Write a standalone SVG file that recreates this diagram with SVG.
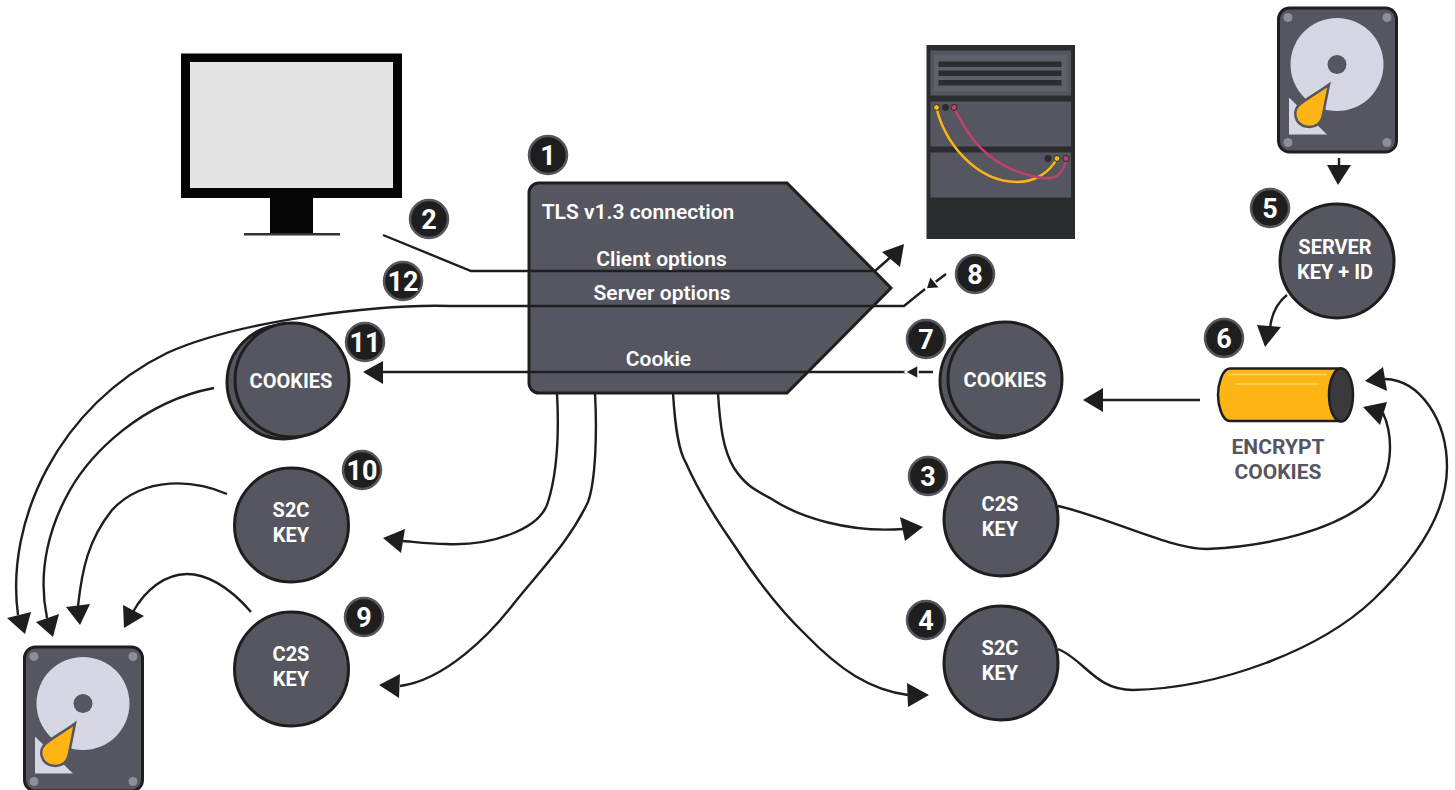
<svg xmlns="http://www.w3.org/2000/svg" width="1455" height="790" viewBox="0 0 1455 790">
<defs>
<style>
text{font-family:Roboto,"Liberation Sans",sans-serif;font-weight:700;text-anchor:middle}
.c{fill:#55565f;stroke:#1f1e1e;stroke-width:3}
.t{fill:#fff;font-size:20px}
.n{fill:#fff;font-size:27px}
.b{fill:#1f1e1e;stroke:#55565f;stroke-width:2.5}
.l{fill:none;stroke:#1f1e1e;stroke-width:2.4}
.h{fill:#1f1e1e;stroke:none}
.g{fill:#1f1e1e;stroke:#fff;stroke-width:1.5}
.m{font-size:21px;fill:#fff;font-weight:600}
.p{fill:#55565f;stroke:#2b2c30;stroke-width:1}
.e{fill:#55565f;font-size:21px}
</style>
<g id="hdd">
<rect x="1.5" y="1.5" width="118" height="144" rx="11" fill="#55565f" stroke="#1f1e1e" stroke-width="3"/>
<circle cx="11" cy="11" r="4.5" fill="#8d8e97"/><circle cx="110" cy="11" r="4.5" fill="#8d8e97"/><circle cx="11" cy="136" r="4.5" fill="#8d8e97"/><circle cx="110" cy="136" r="4.5" fill="#8d8e97"/>
<circle cx="60" cy="58" r="46.5" fill="#d6d6e4"/><circle cx="60" cy="58" r="9.5" fill="#55565f"/>
<path d="M12 91V128H50Z" fill="#d6d6e4"/>
<path d="M52 78C44 84 30 92 24 97C14 104 18 118 29 120C39 122 45 116 46 108C48 98 50 88 52 78Z" fill="#fdb515" stroke="#55565f" stroke-width="2.5"/>
</g>
</defs>
<g id="connectors">
<path class="l" d="M383 235L471 271H875L893 255"/><path class="h" d="M904 244L900 267L882 252Z"/>
<path class="l" d="M946 274L934 283"/><path class="g" d="M926 289L930 276L940 288Z"/>
<path class="l" d="M925 289L904 306H450C380 304 240 320 167 353C60 405 5 520 18 615"/><path class="h" d="M25 634L7 618L31 612Z"/>
<path class="l" d="M214 388C140 402 90 455 70 490C50 525 37 570 47 618"/><path class="h" d="M53 637L36 622L59 614Z"/>
<path class="l" d="M227 494C195 480 145 475 112 510C88 540 82 570 78 606"/><path class="h" d="M80 625L66 607L90 604Z"/>
<path class="l" d="M251 612C228 585 205 574 187 574C165 574 145 590 133 612"/><path class="h" d="M124 628L123 605L144 616Z"/>
<path class="l" d="M933 372H375"/><path class="h" d="M363 372L383 361V384Z"/><path class="g" d="M905 372L918 365V379Z"/>
<path class="l" d="M557 393C559 430 558 470 548 502C540 530 490 546 446 544C430 544 415 542 403 541"/><path class="h" d="M383 538L405 529L401 553Z"/>
<path class="l" d="M595 393C597 430 596 480 588 502C570 540 545 565 515 602C490 635 445 680 400 686"/><path class="h" d="M379 685L400 674L399 698Z"/>
<path class="l" d="M673 393C675 425 678 450 686 463C700 495 720 525 734 545C760 585 785 615 806 635C840 670 870 690 908 695"/><path class="h" d="M929 695L907 683L908 707Z"/>
<path class="l" d="M718 393C720 425 723 450 734 468C745 485 755 490 770 498C800 518 850 533 903 529"/><path class="h" d="M923 527L900 517L905 541Z"/>
<path class="l" d="M1058 506C1110 518 1170 549 1207 549C1270 546 1335 530 1370 500C1395 475 1393 435 1383 413"/><path class="h" d="M1363 407L1387 402L1380 425Z"/>
<path class="l" d="M1058 649C1085 660 1095 690 1133 690C1220 688 1320 650 1373 600C1420 555 1447 510 1447 467C1447 420 1420 380 1385 379"/><path class="h" d="M1365 381L1383 367L1387 391Z"/>
<path class="l" d="M1339 158V170"/><path class="h" d="M1338 185L1327 165H1351Z"/>
<path class="l" d="M1287 295C1278 302 1272 312 1270 328"/><path class="h" d="M1265 347L1257 325L1281 327Z"/>
<path class="l" d="M1200 400H1100"/><path class="h" d="M1083 400L1103 388V412Z"/>
</g>
<g id="monitor">
<rect x="181" y="53.5" width="221" height="144.500" fill="#050505"/>
<rect x="190" y="62" width="203" height="126" fill="#e5e5e5"/>
<rect x="270" y="198" width="43" height="35" fill="#050505"/>
<rect x="244" y="233" width="96" height="2.500" fill="#333"/>
</g>
<g id="server">
<rect x="926.500" y="45" width="148.500" height="194" fill="#2b2c30"/>
<rect class="p" x="930" y="50" width="141.500" height="46"/>
<rect x="934" y="55" width="133" height="36" fill="#5f606a"/>
<rect x="938.500" y="61.500" width="123" height="5.500" fill="#2b2c30"/><rect x="938.500" y="70.500" width="123" height="5.500" fill="#2b2c30"/><rect x="938.500" y="80" width="123" height="5.500" fill="#2b2c30"/>
<rect class="p" x="930" y="101" width="141.500" height="46"/>
<rect class="p" x="930" y="152" width="141.500" height="46"/>
<circle cx="945.500" cy="107.500" r="3.500" fill="#2b2c30"/><circle cx="1048" cy="158.500" r="3.500" fill="#2b2c30"/>
<path d="M936.500 107.500C943 140 975 182 1017 182C1035 182 1050 172 1057 158.500" fill="none" stroke="#fdb515" stroke-width="2.500"/>
<path d="M954 107.500C965 130 985 170 1043 178C1058 180 1065 170 1066 158.500" fill="none" stroke="#c2416b" stroke-width="2.500"/>
<circle cx="936.500" cy="107.500" r="3" fill="#fdb515" stroke="#2b2c30"/><circle cx="954" cy="107.500" r="3" fill="#c2416b" stroke="#2b2c30"/>
<circle cx="1057" cy="158.500" r="3" fill="#fdb515" stroke="#2b2c30"/><circle cx="1066" cy="158.500" r="3" fill="#c2416b" stroke="#2b2c30"/>
</g>
<g id="hdd-server"><use href="#hdd" x="1277" y="6.500"/></g>
<g id="hdd-client"><use href="#hdd" x="23" y="645.500"/></g>
<g id="tls">
<path d="M539 183H787L891 288L787 393H539A10 10 0 0 1 529 383V193A10 10 0 0 1 539 183Z" fill="#55565f" stroke="#1f1e1e" stroke-width="3"/>
<path class="l" d="M529 271H875M529 306H873M529 372H807"/>
<text class="m" x="638" y="219">TLS v1.3 connection</text>
<text class="m" x="661.500" y="266">Client options</text>
<text class="m" x="662" y="300">Server options</text>
<text class="m" x="658.500" y="366">Cookie</text>
</g>
<g id="server-key"><circle class="c" cx="1337" cy="261" r="57"/><text class="t" x="1335" y="254">SERVER</text><text class="t" x="1335" y="279">KEY + ID</text></g>
<g id="cylinder">
<path d="M1230 368.500H1341V421H1230C1222 421 1218 405 1218 395C1218 385 1222 368.500 1230 368.500Z" fill="#fdb515" stroke="#1f1e1e" stroke-width="2.500"/>
<path d="M1228 374.500H1327M1236 384H1319" stroke="#fed268" stroke-width="1.500"/>
<ellipse cx="1341" cy="395" rx="12" ry="26.500" fill="#3a3a3c" stroke="#1f1e1e" stroke-width="2.500"/>
<text class="e" x="1278" y="454">ENCRYPT</text><text class="e" x="1278" y="479">COOKIES</text>
</g>
<g id="cookies-server"><circle class="c" cx="997" cy="381" r="57"/><circle class="c" cx="1005" cy="379" r="57"/><text class="t" x="1005" y="387">COOKIES</text></g>
<g id="cookies-client"><circle class="c" cx="284" cy="382" r="57"/><circle class="c" cx="292" cy="380" r="57"/><text class="t" x="291" y="388">COOKIES</text></g>
<g id="s2c-client"><circle class="c" cx="291.500" cy="525" r="57"/><text class="t" x="291" y="517">S2C</text><text class="t" x="291" y="542">KEY</text></g>
<g id="c2s-client"><circle class="c" cx="291.500" cy="669" r="57"/><text class="t" x="291" y="661">C2S</text><text class="t" x="291" y="686">KEY</text></g>
<g id="c2s-server"><circle class="c" cx="1001" cy="519" r="57"/><text class="t" x="1000" y="511">C2S</text><text class="t" x="1000" y="536">KEY</text></g>
<g id="s2c-server"><circle class="c" cx="1001" cy="663" r="57"/><text class="t" x="1000" y="655">S2C</text><text class="t" x="1000" y="680">KEY</text></g>
<g id="badge-1"><circle class="b" cx="548" cy="155" r="19"/><text class="n" x="548" y="165">1</text></g>
<g id="badge-2"><circle class="b" cx="429" cy="219" r="19"/><text class="n" x="429" y="229">2</text></g>
<g id="badge-3"><circle class="b" cx="928" cy="476" r="19"/><text class="n" x="928" y="486">3</text></g>
<g id="badge-4"><circle class="b" cx="926" cy="620" r="19"/><text class="n" x="926" y="630">4</text></g>
<g id="badge-5"><circle class="b" cx="1270" cy="208" r="19"/><text class="n" x="1270" y="218">5</text></g>
<g id="badge-6"><circle class="b" cx="1224" cy="338" r="19"/><text class="n" x="1224" y="348">6</text></g>
<g id="badge-7"><circle class="b" cx="926" cy="339" r="19"/><text class="n" x="926" y="349">7</text></g>
<g id="badge-8"><circle class="b" cx="975" cy="274" r="19"/><text class="n" x="975" y="284">8</text></g>
<g id="badge-9"><circle class="b" cx="364" cy="617" r="19"/><text class="n" x="364" y="627">9</text></g>
<g id="badge-10"><circle class="b" cx="362" cy="470" r="19"/><text class="n" x="362" y="480">10</text></g>
<g id="badge-11"><circle class="b" cx="365" cy="342" r="19"/><text class="n" x="365" y="352">11</text></g>
<g id="badge-12"><circle class="b" cx="403" cy="281" r="19"/><text class="n" x="403" y="291">12</text></g>
</svg>
